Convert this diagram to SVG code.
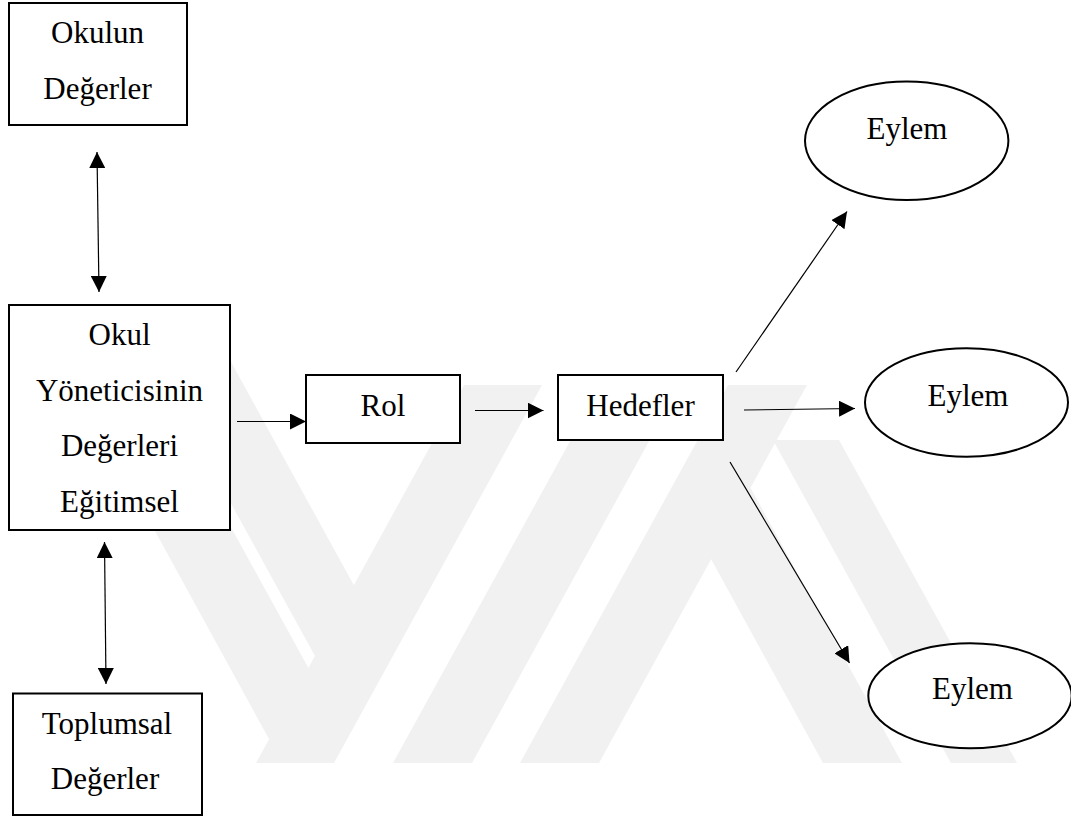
<svg xmlns="http://www.w3.org/2000/svg" width="1071" height="818" viewBox="0 0 1071 818">
  <defs>
    <marker id="ah" markerUnits="userSpaceOnUse" markerWidth="16" markerHeight="16" viewBox="0 0 16 16" refX="16" refY="8" orient="auto-start-reverse">
      <path d="M0,0 L16,8 L0,16 z" fill="#000"/>
    </marker>
    <style>
      .box { fill: #fff; stroke: #000; stroke-width: 2; }
      .ell { fill: #fff; stroke: #000; stroke-width: 2; }
      .lbl { font-family: "Liberation Serif", "Times New Roman", serif; font-size: 31px; fill: #000; text-anchor: middle; }
      .con { stroke: #000; stroke-width: 1.2; fill: none; }
      .wm { fill: #f1f1f1; stroke: none; }
    </style>
  </defs>
  <rect width="1071" height="818" fill="#fff"/>

  <g id="watermark">
    <polygon class="wm" points="256,763 334,763 542,385 464,385"/>
    <polygon class="wm" points="393,763 472,763 680,385 601,385"/>
    <polygon class="wm" points="520,763 599,763 807,385 728,385"/>
    <polygon class="wm" points="141,340 219,340 373,620 315,656"/>
    <polygon class="wm" points="138,500 216,500 326,700 269,739"/>
    <polygon class="wm" points="823,763 902,763 711,416 711,559"/>
    <polygon class="wm" points="951,763 1017,763 839,440 773,440"/>
  </g>

  <g id="connectors">
    <line class="con" x1="97" y1="152" x2="99" y2="292" marker-start="url(#ah)" marker-end="url(#ah)"/>
    <line class="con" x1="104.5" y1="542" x2="106" y2="684" marker-start="url(#ah)" marker-end="url(#ah)"/>
    <line class="con" x1="237" y1="421.5" x2="306" y2="421.5" marker-end="url(#ah)"/>
    <line class="con" x1="475" y1="410.5" x2="543.5" y2="410.5" marker-end="url(#ah)"/>
    <line class="con" x1="744" y1="410" x2="855" y2="408.5" marker-end="url(#ah)"/>
    <line class="con" x1="736" y1="372" x2="847" y2="211.5" marker-end="url(#ah)"/>
    <line class="con" x1="730" y1="462" x2="849.5" y2="663" marker-end="url(#ah)"/>
  </g>

  <g id="okulun-degerler">
    <rect class="box" x="9" y="3" width="178" height="122"/>
    <text class="lbl" x="97.5" y="43">Okulun</text>
    <text class="lbl" x="97.5" y="98.5">Değerler</text>
  </g>

  <g id="okul-yoneticisi">
    <rect class="box" x="9" y="305" width="221" height="225"/>
    <text class="lbl" x="119.5" y="345">Okul</text>
    <text class="lbl" x="119.5" y="400.5">Yöneticisinin</text>
    <text class="lbl" x="119.5" y="456">Değerleri</text>
    <text class="lbl" x="119.5" y="511.5">Eğitimsel</text>
  </g>

  <g id="toplumsal-degerler">
    <rect class="box" x="13" y="693.5" width="189" height="121.5"/>
    <text class="lbl" x="107" y="734">Toplumsal</text>
    <text class="lbl" x="105" y="789">Değerler</text>
  </g>

  <g id="rol">
    <rect class="box" x="306" y="375" width="154" height="68"/>
    <text class="lbl" x="383" y="416">Rol</text>
  </g>

  <g id="hedefler">
    <rect class="box" x="558" y="375" width="165" height="65"/>
    <text class="lbl" x="640.5" y="416">Hedefler</text>
  </g>

  <g id="eylem-1">
    <ellipse class="ell" cx="906.7" cy="140.8" rx="101.7" ry="59.2"/>
    <text class="lbl" x="907" y="139">Eylem</text>
  </g>

  <g id="eylem-2">
    <ellipse class="ell" cx="966.5" cy="402.5" rx="101.5" ry="54.2"/>
    <text class="lbl" x="968" y="406">Eylem</text>
  </g>

  <g id="eylem-3">
    <ellipse class="ell" cx="970" cy="695.8" rx="101.7" ry="52.5"/>
    <text class="lbl" x="972.5" y="699">Eylem</text>
  </g>
</svg>
